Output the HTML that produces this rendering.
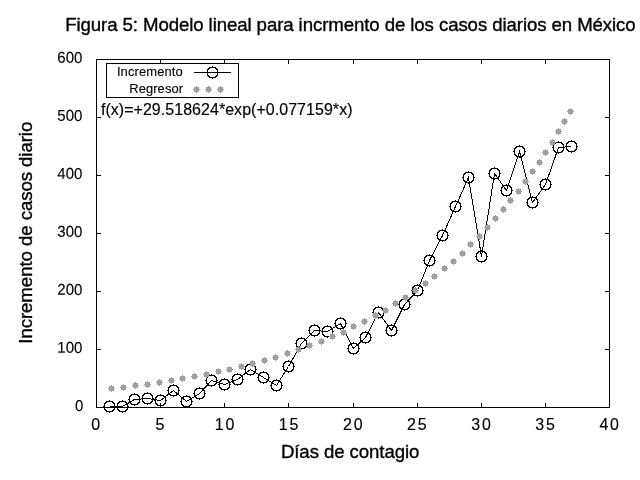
<!DOCTYPE html>
<html><head><meta charset="utf-8"><title>Figura 5</title>
<style>
html,body{margin:0;padding:0;background:#fff;}
body{width:640px;height:480px;overflow:hidden;}
svg{display:block;}
text{font-family:"Liberation Sans",sans-serif;fill:#000;stroke:#000;stroke-linejoin:round;}
.tx{font-size:16px;stroke-width:0.15px;}
.ty{font-size:15px;stroke-width:0.12px;}
.lg{font-size:13px;stroke-width:0.1px;}
.ax{font-size:18.67px;stroke-width:0.35px;}
</style></head><body>
<svg width="640" height="480" viewBox="0 0 640 480">
<rect x="0" y="0" width="640" height="480" fill="#fff"/>
<text class="ax" transform="translate(65.2,31.4) scale(1,1.02)" textLength="570.5" lengthAdjust="spacing">Figura 5: Modelo lineal para incrmento de los casos diarios en México</text>
<g shape-rendering="crispEdges" stroke="#000" stroke-width="1" fill="none">
<rect x="96.5" y="59.5" width="513" height="348"/>
<path fill="#000" stroke="none" d="M96 403h1v4h-1zM96 60h1v4h-1zM160 403h1v4h-1zM160 60h1v4h-1zM224 403h1v4h-1zM224 60h1v4h-1zM288 403h1v4h-1zM288 60h1v4h-1zM353 403h1v4h-1zM353 60h1v4h-1zM417 403h1v4h-1zM417 60h1v4h-1zM481 403h1v4h-1zM481 60h1v4h-1zM545 403h1v4h-1zM545 60h1v4h-1zM609 403h1v4h-1zM609 60h1v4h-1zM97 407h4v1h-4zM605 407h4v1h-4zM97 349h4v1h-4zM605 349h4v1h-4zM97 291h4v1h-4zM605 291h4v1h-4zM97 233h4v1h-4zM605 233h4v1h-4zM97 175h4v1h-4zM605 175h4v1h-4zM97 117h4v1h-4zM605 117h4v1h-4zM97 59h4v1h-4zM605 59h4v1h-4z"/>
<rect x="106.5" y="63.5" width="132" height="34" fill="#fff"/>
</g>
<text class="tx" transform="translate(95.8,429.7) scale(1,1.04)" text-anchor="middle">0</text>
<text class="tx" transform="translate(159.9,429.7) scale(1,1.04)" text-anchor="middle">5</text>
<text class="tx" transform="translate(224.5,429.7) scale(1,1.04)" text-anchor="middle" textLength="19.6" lengthAdjust="spacing">10</text>
<text class="tx" transform="translate(288.6,429.7) scale(1,1.04)" text-anchor="middle" textLength="19.6" lengthAdjust="spacing">15</text>
<text class="tx" transform="translate(352.8,429.7) scale(1,1.04)" text-anchor="middle" textLength="19.6" lengthAdjust="spacing">20</text>
<text class="tx" transform="translate(416.9,429.7) scale(1,1.04)" text-anchor="middle" textLength="19.6" lengthAdjust="spacing">25</text>
<text class="tx" transform="translate(481.0,429.7) scale(1,1.04)" text-anchor="middle" textLength="19.6" lengthAdjust="spacing">30</text>
<text class="tx" transform="translate(545.1,429.7) scale(1,1.04)" text-anchor="middle" textLength="19.6" lengthAdjust="spacing">35</text>
<text class="tx" transform="translate(609.2,429.7) scale(1,1.04)" text-anchor="middle" textLength="19.6" lengthAdjust="spacing">40</text>
<text class="ty" transform="translate(83.4,410.9) rotate(0.1) scale(1,1.04)" text-anchor="end">0</text>
<text class="ty" transform="translate(82.4,352.9) rotate(0.1) scale(1,1.04)" text-anchor="end">100</text>
<text class="ty" transform="translate(82.4,294.9) rotate(0.1) scale(1,1.04)" text-anchor="end">200</text>
<text class="ty" transform="translate(82.4,236.9) rotate(0.1) scale(1,1.04)" text-anchor="end">300</text>
<text class="ty" transform="translate(82.4,178.9) rotate(0.1) scale(1,1.04)" text-anchor="end">400</text>
<text class="ty" transform="translate(82.4,120.9) rotate(0.1) scale(1,1.04)" text-anchor="end">500</text>
<text class="ty" transform="translate(82.4,62.9) rotate(0.1) scale(1,1.04)" text-anchor="end">600</text>
<text class="ax" transform="translate(280.9,457.6) scale(1,1.02)" textLength="138.5" lengthAdjust="spacing">Días de contagio</text>
<text class="ax" transform="translate(32.2,343.7) rotate(-90) scale(1,1.02)" textLength="222" lengthAdjust="spacing">Incremento de casos diario</text>
<text class="tx" transform="translate(100.9,114.6) scale(1,1.04)" textLength="251.6" lengthAdjust="spacing">f(x)=+29.518624*exp(+0.077159*x)</text>
<text class="lg" transform="translate(116.9,75.8) scale(1,1.03)" textLength="65.8" lengthAdjust="spacing">Incremento</text>
<text class="lg" transform="translate(129.2,92.7) scale(1,1.03)" textLength="53.9" lengthAdjust="spacing">Regresor</text>
<g stroke="#000" stroke-width="1" fill="none" shape-rendering="crispEdges">
<polyline points="109.5,406.5 122.5,406.5 134.5,399.5 147.5,398.5 160.5,400.5 173.5,390.5 186.5,401.5 199.5,393.5 211.5,380.5 224.5,384.5 237.5,379.5 250.5,369.5 263.5,377.5 276.5,385.5 288.5,366.5 301.5,343.5 314.5,330.5 327.5,331.5 340.5,323.5 353.5,348.5 365.5,337.5 378.5,312.5 391.5,330.5 404.5,304.5 417.5,290.5 429.5,260.5 442.5,235.5 455.5,206.5 468.5,177.5 481.5,256.5 494.5,173.5 506.5,190.5 519.5,151.5 532.5,202.5 545.5,184.5 558.5,147.5 571.5,146.5"/>
<path d="M194 72.5H231"/>
</g>
<g fill="#000" stroke="none" shape-rendering="crispEdges">
<path d="M106 401h7v1h-7zM106 411h7v1h-7zM104 403h1v7h-1zM114 403h1v7h-1zM105 402h2v1h-2zM112 402h2v1h-2zM105 410h2v1h-2zM112 410h2v1h-2zM105 403h1v1h-1zM113 403h1v1h-1zM105 409h1v1h-1zM113 409h1v1h-1zM109 400h1v1h-1zM109 412h1v1h-1zM103 406h1v1h-1zM115 406h1v1h-1z"/>
<path d="M119 401h7v1h-7zM119 411h7v1h-7zM117 403h1v7h-1zM127 403h1v7h-1zM118 402h2v1h-2zM125 402h2v1h-2zM118 410h2v1h-2zM125 410h2v1h-2zM118 403h1v1h-1zM126 403h1v1h-1zM118 409h1v1h-1zM126 409h1v1h-1zM122 400h1v1h-1zM122 412h1v1h-1zM116 406h1v1h-1zM128 406h1v1h-1z"/>
<path d="M131 394h7v1h-7zM131 404h7v1h-7zM129 396h1v7h-1zM139 396h1v7h-1zM130 395h2v1h-2zM137 395h2v1h-2zM130 403h2v1h-2zM137 403h2v1h-2zM130 396h1v1h-1zM138 396h1v1h-1zM130 402h1v1h-1zM138 402h1v1h-1zM134 393h1v1h-1zM134 405h1v1h-1zM128 399h1v1h-1zM140 399h1v1h-1z"/>
<path d="M144 393h7v1h-7zM144 403h7v1h-7zM142 395h1v7h-1zM152 395h1v7h-1zM143 394h2v1h-2zM150 394h2v1h-2zM143 402h2v1h-2zM150 402h2v1h-2zM143 395h1v1h-1zM151 395h1v1h-1zM143 401h1v1h-1zM151 401h1v1h-1zM147 392h1v1h-1zM147 404h1v1h-1zM141 398h1v1h-1zM153 398h1v1h-1z"/>
<path d="M157 395h7v1h-7zM157 405h7v1h-7zM155 397h1v7h-1zM165 397h1v7h-1zM156 396h2v1h-2zM163 396h2v1h-2zM156 404h2v1h-2zM163 404h2v1h-2zM156 397h1v1h-1zM164 397h1v1h-1zM156 403h1v1h-1zM164 403h1v1h-1zM160 394h1v1h-1zM160 406h1v1h-1zM154 400h1v1h-1zM166 400h1v1h-1z"/>
<path d="M170 385h7v1h-7zM170 395h7v1h-7zM168 387h1v7h-1zM178 387h1v7h-1zM169 386h2v1h-2zM176 386h2v1h-2zM169 394h2v1h-2zM176 394h2v1h-2zM169 387h1v1h-1zM177 387h1v1h-1zM169 393h1v1h-1zM177 393h1v1h-1zM173 384h1v1h-1zM173 396h1v1h-1zM167 390h1v1h-1zM179 390h1v1h-1z"/>
<path d="M183 396h7v1h-7zM183 406h7v1h-7zM181 398h1v7h-1zM191 398h1v7h-1zM182 397h2v1h-2zM189 397h2v1h-2zM182 405h2v1h-2zM189 405h2v1h-2zM182 398h1v1h-1zM190 398h1v1h-1zM182 404h1v1h-1zM190 404h1v1h-1zM186 395h1v1h-1zM186 407h1v1h-1zM180 401h1v1h-1zM192 401h1v1h-1z"/>
<path d="M196 388h7v1h-7zM196 398h7v1h-7zM194 390h1v7h-1zM204 390h1v7h-1zM195 389h2v1h-2zM202 389h2v1h-2zM195 397h2v1h-2zM202 397h2v1h-2zM195 390h1v1h-1zM203 390h1v1h-1zM195 396h1v1h-1zM203 396h1v1h-1zM199 387h1v1h-1zM199 399h1v1h-1zM193 393h1v1h-1zM205 393h1v1h-1z"/>
<path d="M208 375h7v1h-7zM208 385h7v1h-7zM206 377h1v7h-1zM216 377h1v7h-1zM207 376h2v1h-2zM214 376h2v1h-2zM207 384h2v1h-2zM214 384h2v1h-2zM207 377h1v1h-1zM215 377h1v1h-1zM207 383h1v1h-1zM215 383h1v1h-1zM211 374h1v1h-1zM211 386h1v1h-1zM205 380h1v1h-1zM217 380h1v1h-1z"/>
<path d="M221 379h7v1h-7zM221 389h7v1h-7zM219 381h1v7h-1zM229 381h1v7h-1zM220 380h2v1h-2zM227 380h2v1h-2zM220 388h2v1h-2zM227 388h2v1h-2zM220 381h1v1h-1zM228 381h1v1h-1zM220 387h1v1h-1zM228 387h1v1h-1zM224 378h1v1h-1zM224 390h1v1h-1zM218 384h1v1h-1zM230 384h1v1h-1z"/>
<path d="M234 374h7v1h-7zM234 384h7v1h-7zM232 376h1v7h-1zM242 376h1v7h-1zM233 375h2v1h-2zM240 375h2v1h-2zM233 383h2v1h-2zM240 383h2v1h-2zM233 376h1v1h-1zM241 376h1v1h-1zM233 382h1v1h-1zM241 382h1v1h-1zM237 373h1v1h-1zM237 385h1v1h-1zM231 379h1v1h-1zM243 379h1v1h-1z"/>
<path d="M247 364h7v1h-7zM247 374h7v1h-7zM245 366h1v7h-1zM255 366h1v7h-1zM246 365h2v1h-2zM253 365h2v1h-2zM246 373h2v1h-2zM253 373h2v1h-2zM246 366h1v1h-1zM254 366h1v1h-1zM246 372h1v1h-1zM254 372h1v1h-1zM250 363h1v1h-1zM250 375h1v1h-1zM244 369h1v1h-1zM256 369h1v1h-1z"/>
<path d="M260 372h7v1h-7zM260 382h7v1h-7zM258 374h1v7h-1zM268 374h1v7h-1zM259 373h2v1h-2zM266 373h2v1h-2zM259 381h2v1h-2zM266 381h2v1h-2zM259 374h1v1h-1zM267 374h1v1h-1zM259 380h1v1h-1zM267 380h1v1h-1zM263 371h1v1h-1zM263 383h1v1h-1zM257 377h1v1h-1zM269 377h1v1h-1z"/>
<path d="M273 380h7v1h-7zM273 390h7v1h-7zM271 382h1v7h-1zM281 382h1v7h-1zM272 381h2v1h-2zM279 381h2v1h-2zM272 389h2v1h-2zM279 389h2v1h-2zM272 382h1v1h-1zM280 382h1v1h-1zM272 388h1v1h-1zM280 388h1v1h-1zM276 379h1v1h-1zM276 391h1v1h-1zM270 385h1v1h-1zM282 385h1v1h-1z"/>
<path d="M285 361h7v1h-7zM285 371h7v1h-7zM283 363h1v7h-1zM293 363h1v7h-1zM284 362h2v1h-2zM291 362h2v1h-2zM284 370h2v1h-2zM291 370h2v1h-2zM284 363h1v1h-1zM292 363h1v1h-1zM284 369h1v1h-1zM292 369h1v1h-1zM288 360h1v1h-1zM288 372h1v1h-1zM282 366h1v1h-1zM294 366h1v1h-1z"/>
<path d="M298 338h7v1h-7zM298 348h7v1h-7zM296 340h1v7h-1zM306 340h1v7h-1zM297 339h2v1h-2zM304 339h2v1h-2zM297 347h2v1h-2zM304 347h2v1h-2zM297 340h1v1h-1zM305 340h1v1h-1zM297 346h1v1h-1zM305 346h1v1h-1zM301 337h1v1h-1zM301 349h1v1h-1zM295 343h1v1h-1zM307 343h1v1h-1z"/>
<path d="M311 325h7v1h-7zM311 335h7v1h-7zM309 327h1v7h-1zM319 327h1v7h-1zM310 326h2v1h-2zM317 326h2v1h-2zM310 334h2v1h-2zM317 334h2v1h-2zM310 327h1v1h-1zM318 327h1v1h-1zM310 333h1v1h-1zM318 333h1v1h-1zM314 324h1v1h-1zM314 336h1v1h-1zM308 330h1v1h-1zM320 330h1v1h-1z"/>
<path d="M324 326h7v1h-7zM324 336h7v1h-7zM322 328h1v7h-1zM332 328h1v7h-1zM323 327h2v1h-2zM330 327h2v1h-2zM323 335h2v1h-2zM330 335h2v1h-2zM323 328h1v1h-1zM331 328h1v1h-1zM323 334h1v1h-1zM331 334h1v1h-1zM327 325h1v1h-1zM327 337h1v1h-1zM321 331h1v1h-1zM333 331h1v1h-1z"/>
<path d="M337 318h7v1h-7zM337 328h7v1h-7zM335 320h1v7h-1zM345 320h1v7h-1zM336 319h2v1h-2zM343 319h2v1h-2zM336 327h2v1h-2zM343 327h2v1h-2zM336 320h1v1h-1zM344 320h1v1h-1zM336 326h1v1h-1zM344 326h1v1h-1zM340 317h1v1h-1zM340 329h1v1h-1zM334 323h1v1h-1zM346 323h1v1h-1z"/>
<path d="M350 343h7v1h-7zM350 353h7v1h-7zM348 345h1v7h-1zM358 345h1v7h-1zM349 344h2v1h-2zM356 344h2v1h-2zM349 352h2v1h-2zM356 352h2v1h-2zM349 345h1v1h-1zM357 345h1v1h-1zM349 351h1v1h-1zM357 351h1v1h-1zM353 342h1v1h-1zM353 354h1v1h-1zM347 348h1v1h-1zM359 348h1v1h-1z"/>
<path d="M362 332h7v1h-7zM362 342h7v1h-7zM360 334h1v7h-1zM370 334h1v7h-1zM361 333h2v1h-2zM368 333h2v1h-2zM361 341h2v1h-2zM368 341h2v1h-2zM361 334h1v1h-1zM369 334h1v1h-1zM361 340h1v1h-1zM369 340h1v1h-1zM365 331h1v1h-1zM365 343h1v1h-1zM359 337h1v1h-1zM371 337h1v1h-1z"/>
<path d="M375 307h7v1h-7zM375 317h7v1h-7zM373 309h1v7h-1zM383 309h1v7h-1zM374 308h2v1h-2zM381 308h2v1h-2zM374 316h2v1h-2zM381 316h2v1h-2zM374 309h1v1h-1zM382 309h1v1h-1zM374 315h1v1h-1zM382 315h1v1h-1zM378 306h1v1h-1zM378 318h1v1h-1zM372 312h1v1h-1zM384 312h1v1h-1z"/>
<path d="M388 325h7v1h-7zM388 335h7v1h-7zM386 327h1v7h-1zM396 327h1v7h-1zM387 326h2v1h-2zM394 326h2v1h-2zM387 334h2v1h-2zM394 334h2v1h-2zM387 327h1v1h-1zM395 327h1v1h-1zM387 333h1v1h-1zM395 333h1v1h-1zM391 324h1v1h-1zM391 336h1v1h-1zM385 330h1v1h-1zM397 330h1v1h-1z"/>
<path d="M401 299h7v1h-7zM401 309h7v1h-7zM399 301h1v7h-1zM409 301h1v7h-1zM400 300h2v1h-2zM407 300h2v1h-2zM400 308h2v1h-2zM407 308h2v1h-2zM400 301h1v1h-1zM408 301h1v1h-1zM400 307h1v1h-1zM408 307h1v1h-1zM404 298h1v1h-1zM404 310h1v1h-1zM398 304h1v1h-1zM410 304h1v1h-1z"/>
<path d="M414 285h7v1h-7zM414 295h7v1h-7zM412 287h1v7h-1zM422 287h1v7h-1zM413 286h2v1h-2zM420 286h2v1h-2zM413 294h2v1h-2zM420 294h2v1h-2zM413 287h1v1h-1zM421 287h1v1h-1zM413 293h1v1h-1zM421 293h1v1h-1zM417 284h1v1h-1zM417 296h1v1h-1zM411 290h1v1h-1zM423 290h1v1h-1z"/>
<path d="M426 255h7v1h-7zM426 265h7v1h-7zM424 257h1v7h-1zM434 257h1v7h-1zM425 256h2v1h-2zM432 256h2v1h-2zM425 264h2v1h-2zM432 264h2v1h-2zM425 257h1v1h-1zM433 257h1v1h-1zM425 263h1v1h-1zM433 263h1v1h-1zM429 254h1v1h-1zM429 266h1v1h-1zM423 260h1v1h-1zM435 260h1v1h-1z"/>
<path d="M439 230h7v1h-7zM439 240h7v1h-7zM437 232h1v7h-1zM447 232h1v7h-1zM438 231h2v1h-2zM445 231h2v1h-2zM438 239h2v1h-2zM445 239h2v1h-2zM438 232h1v1h-1zM446 232h1v1h-1zM438 238h1v1h-1zM446 238h1v1h-1zM442 229h1v1h-1zM442 241h1v1h-1zM436 235h1v1h-1zM448 235h1v1h-1z"/>
<path d="M452 201h7v1h-7zM452 211h7v1h-7zM450 203h1v7h-1zM460 203h1v7h-1zM451 202h2v1h-2zM458 202h2v1h-2zM451 210h2v1h-2zM458 210h2v1h-2zM451 203h1v1h-1zM459 203h1v1h-1zM451 209h1v1h-1zM459 209h1v1h-1zM455 200h1v1h-1zM455 212h1v1h-1zM449 206h1v1h-1zM461 206h1v1h-1z"/>
<path d="M465 172h7v1h-7zM465 182h7v1h-7zM463 174h1v7h-1zM473 174h1v7h-1zM464 173h2v1h-2zM471 173h2v1h-2zM464 181h2v1h-2zM471 181h2v1h-2zM464 174h1v1h-1zM472 174h1v1h-1zM464 180h1v1h-1zM472 180h1v1h-1zM468 171h1v1h-1zM468 183h1v1h-1zM462 177h1v1h-1zM474 177h1v1h-1z"/>
<path d="M478 251h7v1h-7zM478 261h7v1h-7zM476 253h1v7h-1zM486 253h1v7h-1zM477 252h2v1h-2zM484 252h2v1h-2zM477 260h2v1h-2zM484 260h2v1h-2zM477 253h1v1h-1zM485 253h1v1h-1zM477 259h1v1h-1zM485 259h1v1h-1zM481 250h1v1h-1zM481 262h1v1h-1zM475 256h1v1h-1zM487 256h1v1h-1z"/>
<path d="M491 168h7v1h-7zM491 178h7v1h-7zM489 170h1v7h-1zM499 170h1v7h-1zM490 169h2v1h-2zM497 169h2v1h-2zM490 177h2v1h-2zM497 177h2v1h-2zM490 170h1v1h-1zM498 170h1v1h-1zM490 176h1v1h-1zM498 176h1v1h-1zM494 167h1v1h-1zM494 179h1v1h-1zM488 173h1v1h-1zM500 173h1v1h-1z"/>
<path d="M503 185h7v1h-7zM503 195h7v1h-7zM501 187h1v7h-1zM511 187h1v7h-1zM502 186h2v1h-2zM509 186h2v1h-2zM502 194h2v1h-2zM509 194h2v1h-2zM502 187h1v1h-1zM510 187h1v1h-1zM502 193h1v1h-1zM510 193h1v1h-1zM506 184h1v1h-1zM506 196h1v1h-1zM500 190h1v1h-1zM512 190h1v1h-1z"/>
<path d="M516 146h7v1h-7zM516 156h7v1h-7zM514 148h1v7h-1zM524 148h1v7h-1zM515 147h2v1h-2zM522 147h2v1h-2zM515 155h2v1h-2zM522 155h2v1h-2zM515 148h1v1h-1zM523 148h1v1h-1zM515 154h1v1h-1zM523 154h1v1h-1zM519 145h1v1h-1zM519 157h1v1h-1zM513 151h1v1h-1zM525 151h1v1h-1z"/>
<path d="M529 197h7v1h-7zM529 207h7v1h-7zM527 199h1v7h-1zM537 199h1v7h-1zM528 198h2v1h-2zM535 198h2v1h-2zM528 206h2v1h-2zM535 206h2v1h-2zM528 199h1v1h-1zM536 199h1v1h-1zM528 205h1v1h-1zM536 205h1v1h-1zM532 196h1v1h-1zM532 208h1v1h-1zM526 202h1v1h-1zM538 202h1v1h-1z"/>
<path d="M542 179h7v1h-7zM542 189h7v1h-7zM540 181h1v7h-1zM550 181h1v7h-1zM541 180h2v1h-2zM548 180h2v1h-2zM541 188h2v1h-2zM548 188h2v1h-2zM541 181h1v1h-1zM549 181h1v1h-1zM541 187h1v1h-1zM549 187h1v1h-1zM545 178h1v1h-1zM545 190h1v1h-1zM539 184h1v1h-1zM551 184h1v1h-1z"/>
<path d="M555 142h7v1h-7zM555 152h7v1h-7zM553 144h1v7h-1zM563 144h1v7h-1zM554 143h2v1h-2zM561 143h2v1h-2zM554 151h2v1h-2zM561 151h2v1h-2zM554 144h1v1h-1zM562 144h1v1h-1zM554 150h1v1h-1zM562 150h1v1h-1zM558 141h1v1h-1zM558 153h1v1h-1zM552 147h1v1h-1zM564 147h1v1h-1z"/>
<path d="M568 141h7v1h-7zM568 151h7v1h-7zM566 143h1v7h-1zM576 143h1v7h-1zM567 142h2v1h-2zM574 142h2v1h-2zM567 150h2v1h-2zM574 150h2v1h-2zM567 143h1v1h-1zM575 143h1v1h-1zM567 149h1v1h-1zM575 149h1v1h-1zM571 140h1v1h-1zM571 152h1v1h-1zM565 146h1v1h-1zM577 146h1v1h-1z"/>
<path d="M209 67h7v1h-7zM209 77h7v1h-7zM207 69h1v7h-1zM217 69h1v7h-1zM208 68h2v1h-2zM215 68h2v1h-2zM208 76h2v1h-2zM215 76h2v1h-2zM208 69h1v1h-1zM216 69h1v1h-1zM208 75h1v1h-1zM216 75h1v1h-1zM212 66h1v1h-1zM212 78h1v1h-1zM206 72h1v1h-1zM218 72h1v1h-1z"/>
</g>
<g fill="#a0a0a0">
<path d="M109 386h2v-1h1v1h2v2h1v1h-1v2h-2v1h-1v-1h-2v-2h-1v-1h1z"/>
<path d="M121 385h2v-1h1v1h2v2h1v1h-1v2h-2v1h-1v-1h-2v-2h-1v-1h1z"/>
<path d="M133 383h2v-1h1v1h2v2h1v1h-1v2h-2v1h-1v-1h-2v-2h-1v-1h1z"/>
<path d="M145 382h2v-1h1v1h2v2h1v1h-1v2h-2v1h-1v-1h-2v-2h-1v-1h1z"/>
<path d="M157 380h2v-1h1v1h2v2h1v1h-1v2h-2v1h-1v-1h-2v-2h-1v-1h1z"/>
<path d="M169 378h2v-1h1v1h2v2h1v1h-1v2h-2v1h-1v-1h-2v-2h-1v-1h1z"/>
<path d="M180 376h2v-1h1v1h2v2h1v1h-1v2h-2v1h-1v-1h-2v-2h-1v-1h1z"/>
<path d="M192 374h2v-1h1v1h2v2h1v1h-1v2h-2v1h-1v-1h-2v-2h-1v-1h1z"/>
<path d="M204 372h2v-1h1v1h2v2h1v1h-1v2h-2v1h-1v-1h-2v-2h-1v-1h1z"/>
<path d="M216 369h2v-1h1v1h2v2h1v1h-1v2h-2v1h-1v-1h-2v-2h-1v-1h1z"/>
<path d="M227 367h2v-1h1v1h2v2h1v1h-1v2h-2v1h-1v-1h-2v-2h-1v-1h1z"/>
<path d="M239 364h2v-1h1v1h2v2h1v1h-1v2h-2v1h-1v-1h-2v-2h-1v-1h1z"/>
<path d="M250 361h2v-1h1v1h2v2h1v1h-1v2h-2v1h-1v-1h-2v-2h-1v-1h1z"/>
<path d="M262 358h2v-1h1v1h2v2h1v1h-1v2h-2v1h-1v-1h-2v-2h-1v-1h1z"/>
<path d="M273 355h2v-1h1v1h2v2h1v1h-1v2h-2v1h-1v-1h-2v-2h-1v-1h1z"/>
<path d="M285 351h2v-1h1v1h2v2h1v1h-1v2h-2v1h-1v-1h-2v-2h-1v-1h1z"/>
<path d="M296 347h2v-1h1v1h2v2h1v1h-1v2h-2v1h-1v-1h-2v-2h-1v-1h1z"/>
<path d="M307 343h2v-1h1v1h2v2h1v1h-1v2h-2v1h-1v-1h-2v-2h-1v-1h1z"/>
<path d="M319 339h2v-1h1v1h2v2h1v1h-1v2h-2v1h-1v-1h-2v-2h-1v-1h1z"/>
<path d="M330 334h2v-1h1v1h2v2h1v1h-1v2h-2v1h-1v-1h-2v-2h-1v-1h1z"/>
<path d="M341 330h2v-1h1v1h2v2h1v1h-1v2h-2v1h-1v-1h-2v-2h-1v-1h1z"/>
<path d="M351 324h2v-1h1v1h2v2h1v1h-1v2h-2v1h-1v-1h-2v-2h-1v-1h1z"/>
<path d="M362 319h2v-1h1v1h2v2h1v1h-1v2h-2v1h-1v-1h-2v-2h-1v-1h1z"/>
<path d="M373 313h2v-1h1v1h2v2h1v1h-1v2h-2v1h-1v-1h-2v-2h-1v-1h1z"/>
<path d="M383 308h2v-1h1v1h2v2h1v1h-1v2h-2v1h-1v-1h-2v-2h-1v-1h1z"/>
<path d="M393 301h2v-1h1v1h2v2h1v1h-1v2h-2v1h-1v-1h-2v-2h-1v-1h1z"/>
<path d="M403 295h2v-1h1v1h2v2h1v1h-1v2h-2v1h-1v-1h-2v-2h-1v-1h1z"/>
<path d="M413 288h2v-1h1v1h2v2h1v1h-1v2h-2v1h-1v-1h-2v-2h-1v-1h1z"/>
<path d="M423 281h2v-1h1v1h2v2h1v1h-1v2h-2v1h-1v-1h-2v-2h-1v-1h1z"/>
<path d="M432 274h2v-1h1v1h2v2h1v1h-1v2h-2v1h-1v-1h-2v-2h-1v-1h1z"/>
<path d="M442 266h2v-1h1v1h2v2h1v1h-1v2h-2v1h-1v-1h-2v-2h-1v-1h1z"/>
<path d="M451 259h2v-1h1v1h2v2h1v1h-1v2h-2v1h-1v-1h-2v-2h-1v-1h1z"/>
<path d="M460 251h2v-1h1v1h2v2h1v1h-1v2h-2v1h-1v-1h-2v-2h-1v-1h1z"/>
<path d="M468 242h2v-1h1v1h2v2h1v1h-1v2h-2v1h-1v-1h-2v-2h-1v-1h1z"/>
<path d="M477 234h2v-1h1v1h2v2h1v1h-1v2h-2v1h-1v-1h-2v-2h-1v-1h1z"/>
<path d="M485 225h2v-1h1v1h2v2h1v1h-1v2h-2v1h-1v-1h-2v-2h-1v-1h1z"/>
<path d="M493 216h2v-1h1v1h2v2h1v1h-1v2h-2v1h-1v-1h-2v-2h-1v-1h1z"/>
<path d="M501 207h2v-1h1v1h2v2h1v1h-1v2h-2v1h-1v-1h-2v-2h-1v-1h1z"/>
<path d="M508 198h2v-1h1v1h2v2h1v1h-1v2h-2v1h-1v-1h-2v-2h-1v-1h1z"/>
<path d="M516 189h2v-1h1v1h2v2h1v1h-1v2h-2v1h-1v-1h-2v-2h-1v-1h1z"/>
<path d="M523 179h2v-1h1v1h2v2h1v1h-1v2h-2v1h-1v-1h-2v-2h-1v-1h1z"/>
<path d="M530 169h2v-1h1v1h2v2h1v1h-1v2h-2v1h-1v-1h-2v-2h-1v-1h1z"/>
<path d="M537 160h2v-1h1v1h2v2h1v1h-1v2h-2v1h-1v-1h-2v-2h-1v-1h1z"/>
<path d="M543 150h2v-1h1v1h2v2h1v1h-1v2h-2v1h-1v-1h-2v-2h-1v-1h1z"/>
<path d="M550 140h2v-1h1v1h2v2h1v1h-1v2h-2v1h-1v-1h-2v-2h-1v-1h1z"/>
<path d="M556 129h2v-1h1v1h2v2h1v1h-1v2h-2v1h-1v-1h-2v-2h-1v-1h1z"/>
<path d="M562 119h2v-1h1v1h2v2h1v1h-1v2h-2v1h-1v-1h-2v-2h-1v-1h1z"/>
<path d="M568 109h2v-1h1v1h2v2h1v1h-1v2h-2v1h-1v-1h-2v-2h-1v-1h1z"/>
<path d="M194 87h2v-1h1v1h2v2h1v1h-1v2h-2v1h-1v-1h-2v-2h-1v-1h1z"/>
<path d="M206 87h2v-1h1v1h2v2h1v1h-1v2h-2v1h-1v-1h-2v-2h-1v-1h1z"/>
<path d="M218 87h2v-1h1v1h2v2h1v1h-1v2h-2v1h-1v-1h-2v-2h-1v-1h1z"/>
</g>
</svg>
</body></html>
